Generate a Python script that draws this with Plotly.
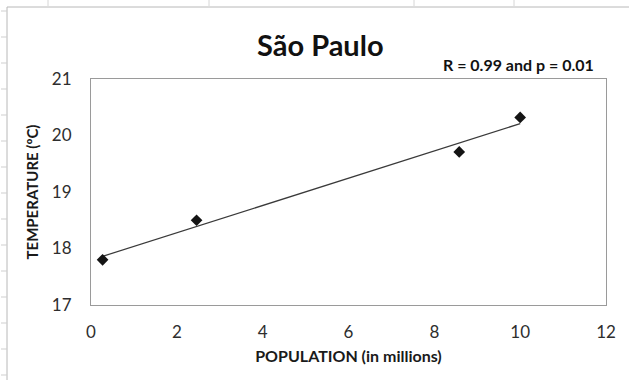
import numpy as np
import plotly.graph_objects as go

# Population (millions) vs. mean temperature (°C)
population = [0.27, 2.46, 8.58, 10.0]
temperature = [17.80, 18.50, 19.71, 20.32]

x_ticks = [0, 2, 4, 6, 8, 10, 12]
y_ticks = [17, 18, 19, 20, 21]

title_text = "São Paulo"
stats_text = "R = 0.99 and p = 0.01"
x_title = "POPULATION (in millions)"
y_title = "TEMPERATURE (ºC)"

W, H = 629, 380
L, R, T, B = 91, 23, 79, 75
FONT = "Lato, 'Open Sans', sans-serif"

# least-squares trend line across the data range
slope, intercept = np.polyfit(population, temperature, 1)
trend_x = [min(population), max(population)]
trend_y = [slope * v + intercept for v in trend_x]

fig = go.Figure()
fig.add_trace(go.Scatter(
    x=trend_x, y=trend_y, mode="lines",
    line=dict(color="#3a3a3a", width=1.3),
    hoverinfo="skip", showlegend=False,
))
fig.add_trace(go.Scatter(
    x=population, y=temperature, mode="markers",
    marker=dict(symbol="diamond", size=9, color="#141414"),
    showlegend=False,
))

def px_to_paper_x(px):
    return (px - L) / (W - L - R)

def px_to_paper_y(py):
    return 1 - (py - T) / (H - T - B)

shapes = []
frame_col = "#b8b8b8"
# chart frame (left and top edges)
shapes.append(dict(type="line", xref="paper", yref="paper",
                   x0=px_to_paper_x(7), x1=px_to_paper_x(W + 5),
                   y0=px_to_paper_y(7), y1=px_to_paper_y(7),
                   line=dict(color=frame_col, width=1)))
shapes.append(dict(type="line", xref="paper", yref="paper",
                   x0=px_to_paper_x(7), x1=px_to_paper_x(7),
                   y0=px_to_paper_y(7), y1=px_to_paper_y(H + 5),
                   line=dict(color=frame_col, width=1)))
# worksheet row and column separators peeking out around the frame
for k in range(15):
    yy = 11 + 26 * k
    shapes.append(dict(type="line", xref="paper", yref="paper",
                       x0=px_to_paper_x(1), x1=px_to_paper_x(7),
                       y0=px_to_paper_y(yy), y1=px_to_paper_y(yy),
                       line=dict(color="#cfcfcf", width=1)))
for xx in [48, 209, 414, 514]:
    shapes.append(dict(type="line", xref="paper", yref="paper",
                       x0=px_to_paper_x(xx), x1=px_to_paper_x(xx),
                       y0=px_to_paper_y(0), y1=px_to_paper_y(6),
                       line=dict(color="#d6d6d6", width=1)))

axis_common = dict(
    showgrid=False, zeroline=False, showline=True, mirror=True,
    linecolor="#9a9a9a", linewidth=1.2, ticks="",
    tickfont=dict(family=FONT, size=17, color="#2e2e2e"),
)

fig.update_layout(
    width=W, height=H,
    margin=dict(l=L, r=R, t=T, b=B),
    paper_bgcolor="white", plot_bgcolor="white",
    font=dict(family=FONT, color="#1a1a1a"),
    xaxis=dict(range=[0, 12], tickvals=x_ticks, ticklabelstandoff=11,
               title=dict(text="<b>%s</b>" % x_title, standoff=10,
                          font=dict(family=FONT, size=16, color="#1a1a1a")),
               **axis_common),
    yaxis=dict(range=[17, 21], tickvals=y_ticks, ticklabelstandoff=15,
               title=dict(text="<b>%s</b>" % y_title, standoff=9,
                          font=dict(family=FONT, size=15, color="#1a1a1a")),
               **axis_common),
    shapes=shapes,
    annotations=[
        dict(text="<b>%s</b>" % title_text, xref="paper", yref="paper",
             x=px_to_paper_x(320), y=px_to_paper_y(44),
             xanchor="center", yanchor="middle", showarrow=False,
             font=dict(family=FONT, size=29, color="#111111")),
        dict(text="<b>%s</b>" % stats_text, xref="paper", yref="paper",
             x=px_to_paper_x(596), y=px_to_paper_y(65),
             xanchor="right", yanchor="middle", showarrow=False,
             font=dict(family=FONT, size=16, color="#111111")),
    ],
)

fig.write_html("out.html")
